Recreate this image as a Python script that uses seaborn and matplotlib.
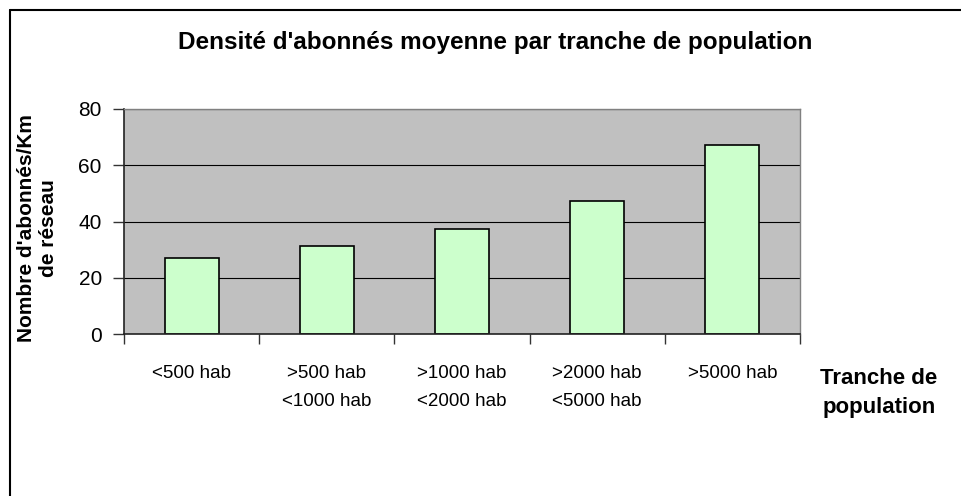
import numpy as np
import pandas as pd
import matplotlib
matplotlib.use("Agg")
import matplotlib.pyplot as plt
import seaborn as sns
from matplotlib.lines import Line2D

# data
tranches = ['<500 hab', '>500 hab\n<1000 hab', '>1000 hab\n<2000 hab',
            '>2000 hab\n<5000 hab', '>5000 hab']
densite = [27.2, 31.2, 37.2, 47.2, 67.2]

df = pd.DataFrame({'Tranche': tranches, 'Densite': densite})

sns.set_style('white')
plt.rcParams['font.family'] = ['Liberation Sans', 'DejaVu Sans']
plt.rcParams['text.color'] = 'black'
plt.rcParams['xtick.color'] = 'black'
plt.rcParams['ytick.color'] = 'black'
plt.rcParams['axes.labelcolor'] = 'black'

fig = plt.figure(figsize=(9.62, 4.96), dpi=100)
ax = fig.add_axes([124 / 962, 1 - 334 / 496, 676 / 962, 225 / 496])
ax.set_facecolor('#C0C0C0')

sns.barplot(data=df, x='Tranche', y='Densite', ax=ax, color='#CCFFCC',
            edgecolor='black', linewidth=1.2, width=0.4, saturation=1)

ax.set_xlim(-0.5, len(tranches) - 0.5)
ax.set_ylim(0, 80)
ax.set_yticks([0, 20, 40, 60, 80])
ax.yaxis.grid(True, color='black', linewidth=0.8)
ax.set_axisbelow(True)

# category boundaries get the tick marks, labels sit at the centres
ax.set_xticks(np.arange(len(tranches)))
ax.set_xticklabels(tranches, fontsize=13.5, linespacing=1.9)
ax.set_xticks(np.arange(-0.5, len(tranches)), minor=True)
ax.tick_params(axis='both', which='both', bottom=True, left=True)
ax.tick_params(axis='x', which='major', length=0, pad=22)
ax.tick_params(axis='x', which='minor', length=7, width=1, color='#333333', direction='out')
ax.tick_params(axis='y', length=8, width=1, color='#333333', direction='out',
               labelsize=15, pad=8)

ax.set_xlabel('')
ax.set_ylabel("Nombre d'abonnés/Km\nde réseau", fontsize=15, fontweight='bold')
ax.yaxis.set_label_coords(-0.098, 0.47)

for side in ['left', 'bottom']:
    ax.spines[side].set_color('#222222')
    ax.spines[side].set_linewidth(1.2)
for side in ['top', 'right']:
    ax.spines[side].set_visible(True)
    ax.spines[side].set_color('#808080')
    ax.spines[side].set_linewidth(1)

fig.text(495 / 962, 1 - 43 / 496, "Densité d'abonnés moyenne par tranche de population",
         ha='center', va='center', fontsize=17.5, fontweight='bold')
fig.text(879 / 962, 1 - 393 / 496, 'Tranche de\npopulation', ha='center', va='center',
         fontsize=16, fontweight='bold', linespacing=1.5)

# chart border (left and top edges visible)
x0, y0 = 9.5 / 962, 1 - 9.5 / 496
fig.add_artist(Line2D([x0, x0], [0, y0], transform=fig.transFigure, color='black', lw=1.5))
fig.add_artist(Line2D([x0, 1], [y0, y0], transform=fig.transFigure, color='black', lw=1.5))

fig.savefig('out.png', dpi=100)
